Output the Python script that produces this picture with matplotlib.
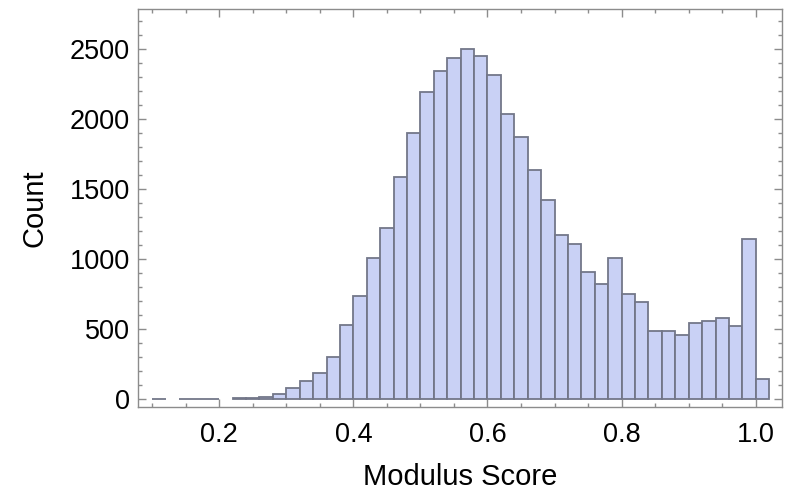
import matplotlib
matplotlib.use("Agg")
import matplotlib.pyplot as plt
import numpy as np
from matplotlib.ticker import MultipleLocator, FormatStrFormatter

plt.rcParams['font.family'] = ['Liberation Sans', 'DejaVu Sans']

# histogram bins (width 0.02) and counts
bin_left = [0.10, 0.12, 0.14, 0.16, 0.18, 0.20, 0.22, 0.24, 0.26, 0.28,
            0.30, 0.32, 0.34, 0.36, 0.38, 0.40, 0.42, 0.44, 0.46, 0.48,
            0.50, 0.52, 0.54, 0.56, 0.58, 0.60, 0.62, 0.64, 0.66, 0.68,
            0.70, 0.72, 0.74, 0.76, 0.78, 0.80, 0.82, 0.84, 0.86, 0.88,
            0.90, 0.92, 0.94, 0.96, 0.98, 1.00]
counts = [2, 0, 2, 3, 3, 0, 6, 9, 14, 33,
          76, 129, 183, 302, 526, 736, 1005, 1224, 1588, 1898,
          2195, 2341, 2436, 2502, 2450, 2314, 2036, 1871, 1633, 1424,
          1171, 1105, 907, 821, 1010, 748, 693, 488, 483, 460,
          545, 555, 576, 519, 1140, 145]
bin_width = 0.02

FILL = '#c9d1f5'
EDGE = '#737789'
FRAME = '#8c8c8c'
W, H = 789, 491

fig = plt.figure(figsize=(W / 100, H / 100), dpi=100)
ax = fig.add_axes([0.175, 0.1705, 0.816, 0.8106])

left = np.array(bin_left)
h = np.array(counts)
keep = h > 0  # empty bins are not drawn
ax.bar(left[keep], h[keep], width=bin_width, align='edge',
       facecolor=FILL, edgecolor=EDGE, linewidth=1.3)

ax.set_xlim(0.079, 1.039)
ax.set_ylim(-59, 2784)

ax.xaxis.set_major_locator(MultipleLocator(0.2))
ax.xaxis.set_minor_locator(MultipleLocator(0.05))
ax.xaxis.set_major_formatter(FormatStrFormatter('%.1f'))
ax.yaxis.set_major_locator(MultipleLocator(500))
ax.yaxis.set_minor_locator(MultipleLocator(100))

ax.tick_params(which='both', direction='in', top=True, right=True,
               color=FRAME, width=1, labelsize=19.5, labelcolor='black')
ax.tick_params(which='major', length=5.5)
ax.tick_params(which='minor', length=3)
ax.tick_params(axis='x', which='major', pad=10.5)
ax.tick_params(axis='y', which='major', pad=5.8)
for s in ax.spines.values():
    s.set_color(FRAME)
    s.set_linewidth(1)

# axis labels placed by their baselines (figure pixels)
ax.set_xlabel('Modulus Score', fontsize=21, va='baseline')
ax.xaxis.set_label_coords(460 / W, 6 / H, transform=fig.transFigure)
ax.set_ylabel('Count', fontsize=21, va='baseline')
ax.yaxis.set_label_coords(43 / W, 0.5, transform=ax.get_yaxis_transform().__class__(fig.transFigure, ax.transAxes))

fig.savefig('out.png', dpi=100)
